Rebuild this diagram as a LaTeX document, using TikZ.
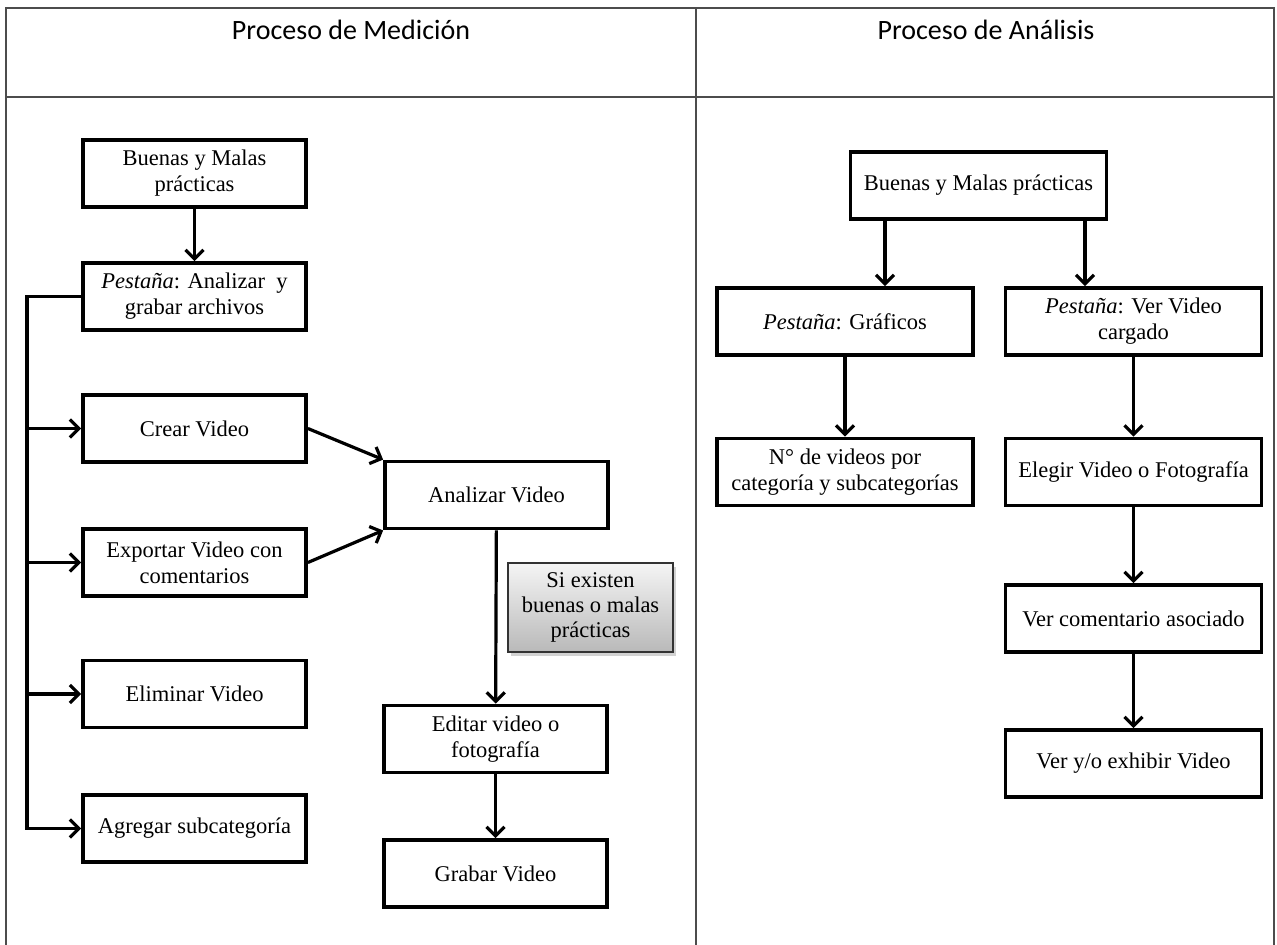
\documentclass[tikz,border=0pt]{standalone}
\usepackage{fontspec}
\setmainfont{Liberation Serif}
\newfontfamily\hdrfont{Carlito}
\usetikzlibrary{arrows.meta,shadows}
\begin{document}
\begin{tikzpicture}[x=1pt,y=-1pt,
  box/.style={draw=black, line width=3.8pt, fill=white, align=center,
    minimum width=223pt, minimum height=67pt, inner sep=2pt,
    font=\fontsize{22.5}{26}\selectfont},
  wbox/.style={box, minimum width=256pt},
  note/.style={draw=black!80, line width=1.4pt, align=center,
    top color=gray!8, bottom color=gray!55,
    minimum width=165pt, minimum height=89pt, inner sep=2pt,
    font=\fontsize{22.5}{25}\selectfont,
    drop shadow={shadow xshift=3pt, shadow yshift=-4pt, opacity=.35}},
  arr/.style={line width=3.2pt, -{Straight Barb[length=9pt,width=18pt]}},
  frame/.style={line width=2pt, draw=black!70},
  hdr/.style={font=\hdrfont\fontsize{28}{30}\selectfont}]
\useasboundingbox (0,0) rectangle (1277,945);
\fill[white] (0,0) rectangle (1277,945);

% table frame and headers
\draw[frame] (6,945) -- (6,8) -- (1274,8) -- (1274,945);
\draw[frame] (6,97) -- (1274,97);
\draw[frame] (696,8) -- (696,945);
\node[hdr] (h1) at (351,30) {Proceso de Medición};
\node[hdr] (h2) at (986,30) {Proceso de Análisis};

% measurement process
\node[box] (bm)  at (194.5,173.5) {Buenas y Malas\\prácticas};
\node[box] (pa)  at (194.5,296.5) {\textit{Pestaña}: Analizar\enspace y\\grabar archivos};
\node[box] (cv)  at (194.5,428.5) {Crear Video};
\node[box] (ev)  at (194.5,562.5) {Exportar Video con\\comentarios};
\node[box] (el)  at (194.5,694)   {Eliminar Video};
\node[box] (ag)  at (194.5,828.5) {Agregar subcategoría};
\node[box] (an)  at (496.5,495)   {Analizar Video};
\node[box] (ed)  at (495.5,739)   {Editar video o\\fotografía};
\node[box] (gr)  at (495.5,873.5) {Grabar Video};
\node[note] (si) at (590.5,607.5) {Si existen\\buenas o malas\\prácticas};

\coordinate (bus) at (27,296.5);
\draw[arr] (bm) -- (pa);
\draw[arr] (pa.west) -- (bus) |- (ag.west);
\draw[arr] (cv.west -| bus) -- (cv.west);
\draw[arr] (ev.west -| bus) -- (ev.west);
\draw[arr] (el.west -| bus) -- (el.west);
\draw[arr] (cv.east) -- (an.north west);
\draw[arr] (ev.east) -- (an.south west);
\draw[arr] (an) -- (ed);
\draw[arr] (ed) -- (gr);

% analysis process
\node[wbox] (rb) at (978.5,185.5) {Buenas y Malas prácticas};
\node[wbox] (rg) at (845,321.5)   {\textit{Pestaña}: Gráficos};
\node[wbox] (rv) at (1133.5,321.5){\textit{Pestaña}: Ver Video\\cargado};
\node[wbox] (rn) at (845,472)     {N° de videos por\\categoría y subcategorías};
\node[wbox] (re) at (1133.5,472)  {Elegir Video o Fotografía};
\node[wbox] (rc) at (1133.5,618.5){Ver comentario asociado};
\node[wbox] (rx) at (1133.5,763.5){Ver y/o exhibir Video};

\coordinate (ca) at (885,0);
\coordinate (cb) at (1085,0);
\draw[arr] (rb.south -| ca) -- (rg.north -| ca);
\draw[arr] (rb.south -| cb) -- (rv.north -| cb);
\draw[arr] (rg) -- (rn);
\draw[arr] (rv) -- (re);
\draw[arr] (re) -- (rc);
\draw[arr] (rc) -- (rx);
\end{tikzpicture}
\end{document}
